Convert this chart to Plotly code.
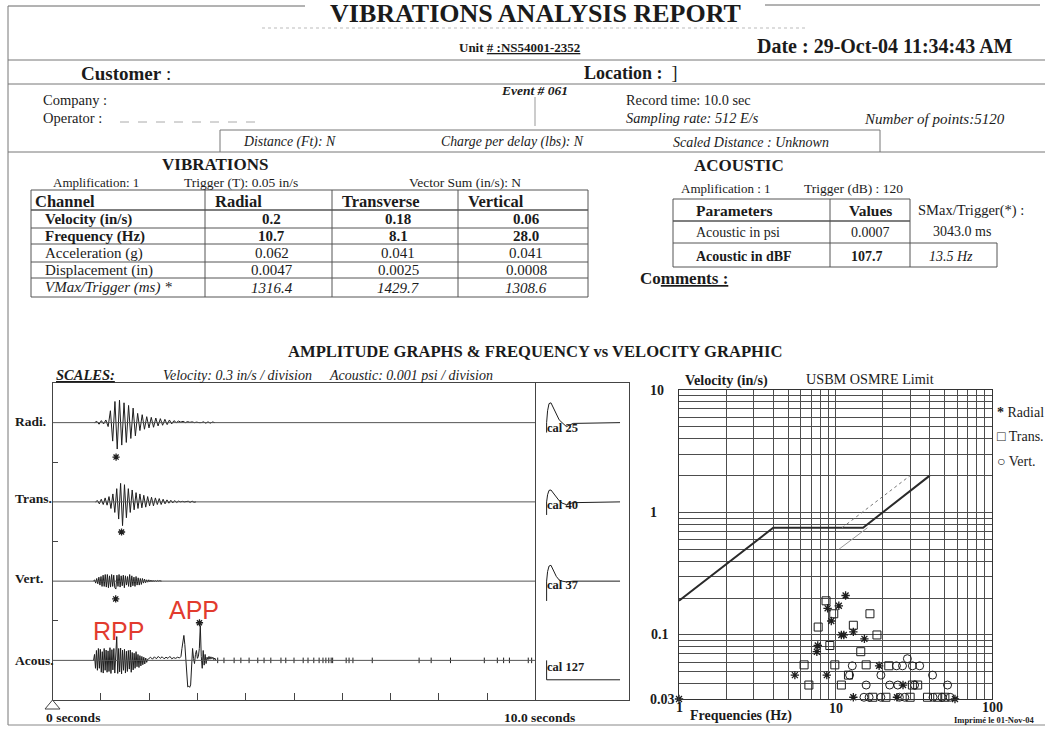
import numpy as np
import plotly.graph_objects as go

W, H = 1045, 729
SERIF = "Liberation Serif"
SANS = "Liberation Sans"
INK = "#1b1b1b"
LINE = "#444444"

# ---------------------------------------------------------------- data
unit_no = "NS54001-2352"
report_date = "29-Oct-04 11:34:43 AM"
event_no = "061"
record_time = "10.0 sec"
sampling_rate = "512 E/s"
n_points = "5120"

channels = ["Radial", "Transverse", "Vertical"]
vib_row_labels = ["Velocity (in/s)", "Frequency (Hz)", "Acceleration (g)",
                  "Displacement (in)", "VMax/Trigger (ms) *"]
velocity = ["0.2", "0.18", "0.06"]
frequency = ["10.7", "8.1", "28.0"]
acceleration = ["0.062", "0.041", "0.041"]
displacement = ["0.0047", "0.0025", "0.0008"]
vmax_trigger = ["1316.4", "1429.7", "1308.6"]

acoustic_params = ["Acoustic in psi", "Acoustic in dBF"]
acoustic_values = ["0.0007", "107.7"]
acoustic_smax = ["3043.0 ms", "13.5 Hz"]

# waveform scales
VEL_PER_DIV = 0.3      # in/s per division
PSI_PER_DIV = 0.001    # psi per division
SAMPLE_SCALE = 1e-4    # acoustic lists are typed in 1e-4 psi

# Radial velocity (in/s), start 0.87 s, step 0.047 s
radial_t0, radial_dt = 0.87, 0.047
radial_vel = [0.0, 0.01, -0.012, 0.015, -0.01, 0.02, -0.03, 0.09, -0.14, 0.16,
              -0.2, 0.17, -0.17, 0.15, -0.15, 0.13, -0.12, 0.11, -0.1, 0.07,
              -0.06, 0.06, -0.05, 0.045, -0.04, 0.04, -0.035, 0.035, -0.025, 0.03,
              -0.02, 0.025, -0.015, 0.02, -0.01, 0.015, 0.0, 0.012, 0.004, 0.01,
              0.0, 0.008, 0.002, 0.006, 0.0, 0.004, 0.0, 0.0, 0.006, -0.004,
              0.006, -0.004, 0.005, 0.0]
# Transverse velocity (in/s), start 0.89 s, step 0.04 s
trans_t0, trans_dt = 0.89, 0.04
trans_vel = [0.0, 0.01, -0.015, 0.02, -0.02, 0.03, -0.025, 0.04, -0.05, 0.06,
             -0.08, 0.1, -0.13, 0.14, -0.18, 0.13, -0.12, 0.1, -0.08, 0.09,
             -0.06, 0.07, -0.05, 0.06, -0.045, 0.05, -0.04, 0.04, -0.03, 0.035,
             -0.03, 0.03, -0.02, 0.025, -0.02, 0.02, -0.015, 0.015, -0.01, 0.012,
             -0.008, 0.01, -0.005, 0.006, 0.0, 0.004, 0.0, 0.0, 0.005, -0.004,
             0.006, -0.003, 0.0]
# Vertical velocity (in/s), start 0.85 s, step 0.022 s
vert_t0, vert_dt = 0.85, 0.022
vert_vel = [0.0, 0.01, -0.015, 0.02, -0.02, 0.03, -0.03, 0.035, -0.04, 0.045,
            -0.04, 0.05, -0.045, 0.05, -0.05, 0.04, -0.045, 0.05, -0.04, 0.045,
            -0.05, -0.06, 0.045, -0.04, 0.05, -0.045, 0.04, -0.035, 0.045, -0.05,
            0.04, -0.03, 0.035, -0.04, 0.05, -0.045, 0.04, -0.035, 0.03, -0.04,
            0.035, -0.03, 0.025, -0.03, 0.02, -0.025, 0.02, -0.015, 0.015, -0.012,
            0.01, -0.008, 0.01, -0.006, 0.008, -0.005, 0.006, -0.004, 0.005, -0.003,
            0.004, 0.0, 0.003, 0.0, 0.0]
# Acoustic pressure (1e-4 psi) - three recorded segments
acous_burst_t0, acous_burst_dt = 0.85, 0.02
acous_burst = [0, 1.5, -2, 2.5, -2.5, 3, -2, 2.8, -3, 2.2, -3.2, 3, -2.5, 2.6, -3,
               2.4, -2.8, 3.2, -3.3, 2.7, -2.4, 3, -3.2, 2.5, 6, -3.3, 3, -2.9, 3.1,
               -3.4, 2.6, -2.5, 2.8, -3.2, 2.3, -2.8, 2.5, -2.2, 2.6, -3, 2, -2.4,
               1.8, -2, 2.2, -1.6, 1.5, -1.8, 1.2, -1.4, 1, -1.1, 0.8, -0.9, 0.6,
               -0.5, 0.3]
acous_ripple_t0, acous_ripple_dt = 1.99, 0.04
acous_ripple = [0.4, 0.8, 0.3, 0.9, 0.4, 1.0, 0.5, 0.9, 0.4, 0.8, 0.5, 1.0, 0.4,
                0.7, 0.5, 0.8, 0.6]
acous_event_t0, acous_event_dt = 2.66, 0.02
acous_event = [1, 3, 5.5, 6.3, 4, 0.5, -4, -6.7, -6.5, -6.8, -6.2, -2, 3, 0.5,
               -0.8, 1.5, 2.5, 0.5, 1, 3, 8.8, 1, -2, 2.5, -1.2, 1.5, -0.8, 0.8,
               0.2, 1, 0.3, 0.9, 0.4, 0.8, 0.2, 0.6, 0]
acous_blip_t = [3.42, 3.55, 3.76, 3.9, 4.07, 4.25, 4.38, 4.52, 4.73, 4.83, 5.0,
                5.19, 5.29, 5.41, 5.52, 5.6, 5.66, 5.72, 5.77, 5.8, 6.08, 6.14,
                6.22, 6.62, 7.59, 7.84, 8.24, 8.94, 9.21, 9.34, 9.46, 9.85, 9.92]
acous_blip_amp = 0.7   # 1e-4 psi

# peak markers (*): time (ms) and offset from baseline (divisions)
star_time_ms = [1316.4, 1429.7, 1308.6, 3043.0]
star_offset_div = [-0.87, -0.76, -0.45, 0.95]

# calibration pulses (divisions), time after cal start
cal_start_s = 10.23
cal_t = [0, 0, 0.02, 0.05, 0.09, 0.14, 0.2, 0.26, 0.32, 0.41, 0.55, 1.52]
radial_cal = [-0.25, 0, 0.3, 0.48, 0.5, 0.38, 0.2, 0.07, 0.0, -0.1, -0.02, 0.0]
trans_cal = [-0.33, 0, 0.18, 0.29, 0.3, 0.22, 0.1, 0.03, -0.03, -0.07, -0.02, 0.0]
vert_cal = [-0.5, 0, 0.24, 0.38, 0.4, 0.28, 0.12, 0.03, 0.0, -0.02, 0.0, 0.0]
acous_cal_t = [0, 0, 1.52]
acous_cal = [0, -0.49, -0.49]
cal_labels = ["cal 25", "cal 40", "cal 37", "cal 127"]
wave_labels = ["Radi.", "Trans.", "Vert.", "Acous."]

# frequency vs velocity scatter
radial_f = [11.6, 8.9, 10.5, 9.4, 10.9, 11.3, 13.0, 15.3, 7.7, 7.6, 19.0, 5.5, 8.8,
            27.0, 13.0, 24.7, 58.0, 1.0]
radial_v = [0.21, 0.165, 0.173, 0.13, 0.10, 0.10, 0.106, 0.093, 0.082, 0.073,
            0.056, 0.047, 0.047, 0.039, 0.031, 0.031, 0.030, 0.030]
trans_f = [8.7, 9.75, 16.6, 7.75, 13.0, 18.4, 9.2, 14.5, 6.3, 9.9, 15.7, 21.9, 12.1,
           6.76, 10.9, 31.0, 33.5, 17.3, 21.0, 30.0, 38.7, 45.0, 50.0]
trans_v = [0.19, 0.149, 0.149, 0.116, 0.12, 0.10, 0.082, 0.073, 0.057, 0.057, 0.057,
           0.056, 0.047, 0.039, 0.039, 0.039, 0.039, 0.031, 0.031, 0.031, 0.031,
           0.031, 0.031]
vert_f = [12.8, 24.5, 26.8, 31.0, 34.5, 28.8, 19.5, 41.7, 15.7, 22.2, 25.0, 32.0,
          52.0, 15.2, 16.4, 19.5, 25.6, 27.7, 42.0, 48.0, 54.0, 12.3]
vert_v = [0.056, 0.056, 0.056, 0.056, 0.056, 0.064, 0.047, 0.047, 0.039, 0.039,
          0.039, 0.039, 0.039, 0.031, 0.031, 0.031, 0.031, 0.031, 0.031, 0.031,
          0.031, 0.047]
usbm_f = [1, 4, 15, 40]
usbm_v = [0.19, 0.75, 0.75, 2.0]
osmre_f = [11, 30]
osmre_v = [0.75, 2.0]
alt_f = [10.5, 16]
alt_v = [0.5, 0.75]
grid_f = [1, 2, 3, 4, 5, 6, 7, 8, 9, 10, 20, 30, 40, 50, 60, 70, 80, 90, 100]
grid_v = [0.03, 0.04, 0.05, 0.06, 0.07, 0.08, 0.09, 0.1, 0.2, 0.3, 0.4, 0.5, 0.6,
          0.7, 0.8, 0.9, 1, 2, 3, 4, 5, 6, 7, 8, 9, 10]
vel_tick_labels = ["10", "1", "0.1", "0.03"]
vel_tick_vals = [10, 1, 0.1, 0.03]
freq_tick_labels = ["1", "10", "100"]
freq_tick_vals = [1, 10, 100]

# ---------------------------------------------------------------- helpers
ann, shapes = [], []


def T(x, y, s, size=12, xa="left", ya="middle", color=INK, family=SERIF,
      xref="x", yref="y"):
    ann.append(dict(x=x, y=y, xref=xref, yref=yref, text=s, showarrow=False,
                    xanchor=xa, yanchor=ya, borderpad=0,
                    font=dict(family=family, size=size, color=color)))


def L(x0, y0, x1, y1, w=1, color=LINE, dash=None, xref="x", yref="y"):
    d = dict(type="line", x0=x0, y0=y0, x1=x1, y1=y1, xref=xref, yref=yref,
             line=dict(color=color, width=w))
    if dash:
        d["line"]["dash"] = dash
    shapes.append(d)


fig = go.Figure()
fig.add_trace(go.Scatter(x=[0], y=[0], mode="markers", marker=dict(opacity=0),
                         hoverinfo="skip", showlegend=False))

# ---------------------------------------------------------------- header
T(535, 13, "<b>VIBRATIONS ANALYSIS REPORT</b>", size=26, xa="center", ya="middle")
L(8, 6, 305, 6, color="#666")
L(765, 5, 1040, 5, color="#666")
L(8, 6, 8, 725, color="#777")
L(262, 28, 805, 28, color="#bbb", dash="dot")
T(519, 47, "<b>Unit <u># :" + unit_no + "</u></b>", size=13, xa="center")
T(885, 46, "<b>Date : " + report_date + "</b>", size=20, xa="center")
L(8, 60, 1045, 60, color="#777")
T(80, 73, "<b>Customer</b> :", size=19)
T(583, 73, "<b>Location :</b>  ]", size=18)
L(8, 84, 1045, 84, color="#777")
T(42, 100, "Company :", size=14.5)
T(42, 118, "Operator :", size=14.5)
L(120, 122, 258, 122, color="#aaa", dash="dash")
T(500, 90, "<b><i>Event # " + event_no + "</i></b>", size=13.5)
L(535, 97, 535, 126, color="#999")
T(625, 100, "Record time: " + record_time, size=14.3)
T(625, 118, "<i>Sampling rate: " + sampling_rate + "</i>", size=14.3)
T(863, 119, "<i>Number of points:" + n_points + "</i>", size=15)
L(220, 130, 880, 130, color="#777")
L(220, 130, 220, 152, color="#777")
L(880, 130, 880, 152, color="#777")
T(242, 142, "<i>Distance (Ft): N</i>", size=13.8)
T(440, 142, "<i>Charge per delay (lbs): N</i>", size=13.8)
T(672, 142, "<i>Scaled Distance : Unknown</i>", size=14)
L(8, 152, 1045, 152, color="#777")

# ---------------------------------------------------------------- vibration table
T(215, 164, "<b>VIBRATIONS</b>", size=17, xa="center")
T(52, 182, "Amplification: 1", size=13)
T(183, 182, "Trigger (T): 0.05 in/s", size=13.5)
T(408, 182, "Vector Sum (in/s): N", size=13.5)
vcols = [31, 205, 332, 458, 588]
vrows = [190, 210, 228, 244, 262, 278, 297]
for x in vcols:
    L(x, vrows[0], x, vrows[-1], color="#555")
for i, y in enumerate(vrows):
    L(vcols[0], y, vcols[-1], y, w=1.6 if i == 1 else 1, color="#555")
T(34, 201, "<b>Channel</b>", size=16.5)
for j, ch in enumerate(channels):
    T(vcols[j + 1] + 9, 201, "<b>" + ch + "</b>", size=16.5)
vib_data = [velocity, frequency, acceleration, displacement, vmax_trigger]
styles = ["b", "b", "", "", "i"]
for r, (lab, vals, st) in enumerate(zip(vib_row_labels, vib_data, styles)):
    yc = (vrows[r + 1] + vrows[r + 2]) / 2
    wrap = (lambda s: "<%s>%s</%s>" % (st, s, st)) if st else (lambda s: s)
    T(44, yc, wrap(lab), size=15)
    for j, v in enumerate(vals):
        T((vcols[j + 1] + vcols[j + 2]) / 2 + 3, yc, wrap(v), size=15, xa="center")

# ---------------------------------------------------------------- acoustic table
T(739, 165, "<b>ACOUSTIC</b>", size=17, xa="center")
T(680, 188, "Amplification : 1", size=13)
T(803, 188, "Trigger (dB) : 120", size=13.5)
acols = [673, 830, 910]
arows = [199, 221, 243, 267]
for x in acols:
    L(x, arows[0], x, arows[-1], color="#555")
for i, y in enumerate(arows):
    L(acols[0], y, acols[-1], y, w=1.6 if i == 1 else 1, color="#555")
L(910, 243, 997, 243, color="#555")
L(910, 267, 997, 267, color="#555")
L(997, 243, 997, 267, color="#555")
T(695, 210, "<b>Parameters</b>", size=15.5)
T(870, 210, "<b>Values</b>", size=15.5, xa="center")
T(917, 210, "SMax/Trigger(*) :", size=14.5)
T(695, 232, acoustic_params[0], size=14)
T(870, 232, acoustic_values[0], size=14, xa="center")
T(962, 231, acoustic_smax[0], size=14, xa="center")
T(695, 256, "<b>" + acoustic_params[1] + "</b>", size=14)
T(867, 256, "<b>" + acoustic_values[1] + "</b>", size=14, xa="center")
T(928, 256, "<i>" + acoustic_smax[1] + "</i>", size=14)
T(639, 278, "<b>Co<u>mments :</u></b>", size=17)

T(535, 351, "<b>AMPLITUDE GRAPHS &amp; FREQUENCY vs VELOCITY GRAPHIC</b>",
  size=16.6, xa="center")

# ---------------------------------------------------------------- waveforms
T(55, 375, "<b><i><u>SCALES:</u></i></b>", size=14.5)
T(162, 375, "<i>Velocity: " + str(VEL_PER_DIV) + " in/s / division</i>", size=14)
T(328, 375, "<i>Acoustic: " + str(PSI_PER_DIV) + " psi / division</i>", size=14)

PX_PER_S = 48.3
WX0, WX1, WY0, WY1 = 52.5, 629, 383, 700
wave_range = [0, (WX1 - WX0) / PX_PER_S]
baselines = [-1, -3, -5, -7]
label_y = [421, 498, 578, 660]
for name, ly, cl in zip(wave_labels, label_y, cal_labels):
    T(14, ly, "<b>" + name + "</b>", size=13.5)
    T(546, ly + 7, "<b>" + cl + "</b>", size=12.5)
for b in baselines:
    L(0, b, 10, b, color="#555", xref="x2", yref="y2")
L(10, -8, 10, 0, color="#444", xref="x2", yref="y2")

WAVE_COLOR = "#1e1e1e"


def seg(t0, dt, vals):
    return t0 + dt * np.arange(len(vals)), np.asarray(vals, float)


def add_wave(x, y):
    fig.add_trace(go.Scatter(x=x, y=y, xaxis="x2", yaxis="y2", mode="lines",
                             line=dict(color=WAVE_COLOR, width=1),
                             hoverinfo="skip", showlegend=False))


for (t0, dt, vals), b in zip([(radial_t0, radial_dt, radial_vel),
                              (trans_t0, trans_dt, trans_vel),
                              (vert_t0, vert_dt, vert_vel)], baselines[:3]):
    tx, vy = seg(t0, dt, vals)
    add_wave(tx, b + vy / VEL_PER_DIV)

ax_t, ax_v = [], []
for t0, dt, vals in [(acous_burst_t0, acous_burst_dt, acous_burst),
                     (acous_ripple_t0, acous_ripple_dt, acous_ripple),
                     (acous_event_t0, acous_event_dt, acous_event)]:
    tx, vy = seg(t0, dt, vals)
    ax_t.extend(tx)
    ax_v.extend(vy * SAMPLE_SCALE)
add_wave(np.array(ax_t), baselines[3] + np.array(ax_v) / PSI_PER_DIV)

bx, by = [], []
amp_div = acous_blip_amp * SAMPLE_SCALE / PSI_PER_DIV
for t in acous_blip_t:
    bx += [t, t, None]
    by += [baselines[3] - amp_div, baselines[3] + amp_div, None]
add_wave(bx, by)

for cal_vals, b in zip([radial_cal, trans_cal, vert_cal], baselines[:3]):
    add_wave(cal_start_s + np.array(cal_t), b + np.array(cal_vals))
add_wave(cal_start_s + np.array(acous_cal_t), baselines[3] + np.array(acous_cal))

fig.add_trace(go.Scatter(
    x=np.array(star_time_ms) / 1000.0,
    y=np.array(baselines) + np.array(star_offset_div),
    xaxis="x2", yaxis="y2", mode="markers",
    marker=dict(symbol="asterisk-open", size=6, color=WAVE_COLOR,
                line=dict(width=1.3, color=WAVE_COLOR)),
    hoverinfo="skip", showlegend=False))

T(118, 631, "RPP", size=25, xa="center", family=SANS, color="#e23b2e")
T(194, 610, "APP", size=25, xa="center", family=SANS, color="#e23b2e")

T(45, 717, "<b>0 seconds</b>", size=13.5)
T(539, 717, "<b>10.0 seconds</b>", size=13.5, xa="center")
shapes.append(dict(type="path", xref="x", yref="y",
                   path="M 52.5 700 L 45 709 L 60 709 Z",
                   line=dict(color="#444", width=1), fillcolor="white"))
L(8, 725, 1045, 725, color="#888")

# ---------------------------------------------------------------- freq vs velocity
LX0, LX1, LY0, LY1 = 679, 992, 390, 699
PT = "#1e1e1e"
fig.add_trace(go.Scatter(x=usbm_f, y=usbm_v, xaxis="x3", yaxis="y3", mode="lines",
                         line=dict(color="#2a2a2a", width=2), hoverinfo="skip",
                         showlegend=False))
fig.add_trace(go.Scatter(x=osmre_f, y=osmre_v, xaxis="x3", yaxis="y3", mode="lines",
                         line=dict(color="#777", width=1, dash="dot"),
                         hoverinfo="skip", showlegend=False))
fig.add_trace(go.Scatter(x=alt_f, y=alt_v, xaxis="x3", yaxis="y3", mode="lines",
                         line=dict(color="#999", width=1), hoverinfo="skip",
                         showlegend=False))
fig.add_trace(go.Scatter(x=trans_f, y=trans_v, xaxis="x3", yaxis="y3", mode="markers",
                         marker=dict(symbol="square-open", size=8, color=PT,
                                     line=dict(width=1, color=PT)),
                         cliponaxis=False, hoverinfo="skip", showlegend=False))
fig.add_trace(go.Scatter(x=vert_f, y=vert_v, xaxis="x3", yaxis="y3", mode="markers",
                         marker=dict(symbol="circle-open", size=8, color=PT,
                                     line=dict(width=1, color=PT)),
                         cliponaxis=False, hoverinfo="skip", showlegend=False))
fig.add_trace(go.Scatter(x=radial_f, y=radial_v, xaxis="x3", yaxis="y3", mode="markers",
                         marker=dict(symbol="asterisk-open", size=7, color=PT,
                                     line=dict(width=1.3, color=PT)),
                         cliponaxis=False, hoverinfo="skip", showlegend=False))

T(684, 380, "<b>Velocity (in/s)</b>", size=14.2)
T(805, 379, "USBM OSMRE Limit", size=14.2)
ycenters = [657, 653, 660, 662]
for lab, v, xc in zip(vel_tick_labels, vel_tick_vals, ycenters):
    T(xc, float(np.log10(v)), "<b>" + lab + "</b>", size=14, xa="center",
      yref="y3")
for lab, f, yy in zip(freq_tick_labels, freq_tick_vals, [707, 708, 707]):
    T(float(np.log10(f)), yy, "<b>" + lab + "</b>", size=14, xa="center",
      xref="x3")
T(689, 716, "<b>Frequencies (Hz)</b>", size=14)
T(953, 720, "<b>Imprimé le 01-Nov-04</b>", size=8.5)
T(996, 412, "<b>*</b> Radial", size=14)
T(996, 436, "□ Trans.", size=14)
T(996, 461, "○ Vert.", size=14)

# ---------------------------------------------------------------- layout
def px_x(a, b):
    return [a / W, b / W]


def px_y(top, bottom):
    return [1 - bottom / H, 1 - top / H]


fig.update_layout(
    width=W, height=H, margin=dict(l=0, r=0, t=0, b=0),
    paper_bgcolor="white", plot_bgcolor="rgba(0,0,0,0)",
    showlegend=False, annotations=ann, shapes=shapes,
    xaxis=dict(range=[0, W], domain=[0, 1], visible=False, fixedrange=True),
    yaxis=dict(range=[H, 0], domain=[0, 1], visible=False, fixedrange=True),
    xaxis2=dict(domain=px_x(WX0, WX1), range=wave_range, anchor="y2",
                showline=True, mirror=True, linecolor="#444", linewidth=1,
                showgrid=False, zeroline=False, ticks="inside", ticklen=7,
                tickcolor="#444", tickvals=[1, 2, 3, 4, 5, 6, 7, 8, 9],
                showticklabels=False, fixedrange=True),
    yaxis2=dict(domain=px_y(WY0, WY1), range=[-8, 0], anchor="x2",
                showline=True, mirror=True, linecolor="#444", linewidth=1,
                showgrid=False, zeroline=False, ticks="inside", ticklen=5,
                tickcolor="#444", tickvals=[-2, -4, -6], showticklabels=False,
                fixedrange=True),
    xaxis3=dict(type="log", domain=px_x(LX0, LX1), range=[0, 2], anchor="y3",
                showline=True, mirror=True, linecolor="#333", linewidth=1,
                showgrid=True, gridcolor="#4d4d4d", gridwidth=1, zeroline=False,
                tickvals=grid_f, showticklabels=False, ticks="", fixedrange=True),
    yaxis3=dict(type="log", domain=px_y(LY0, LY1),
                range=[float(np.log10(0.03)), 1], anchor="x3",
                showline=True, mirror=True, linecolor="#333", linewidth=1,
                showgrid=True, gridcolor="#4d4d4d", gridwidth=1, zeroline=False,
                tickvals=grid_v, showticklabels=False, ticks="", fixedrange=True),
)

fig.write_html("out.html", config={"displayModeBar": False, "staticPlot": True},
               post_script="document.body.style.margin='0';"
                           "document.body.style.overflow='hidden';")
